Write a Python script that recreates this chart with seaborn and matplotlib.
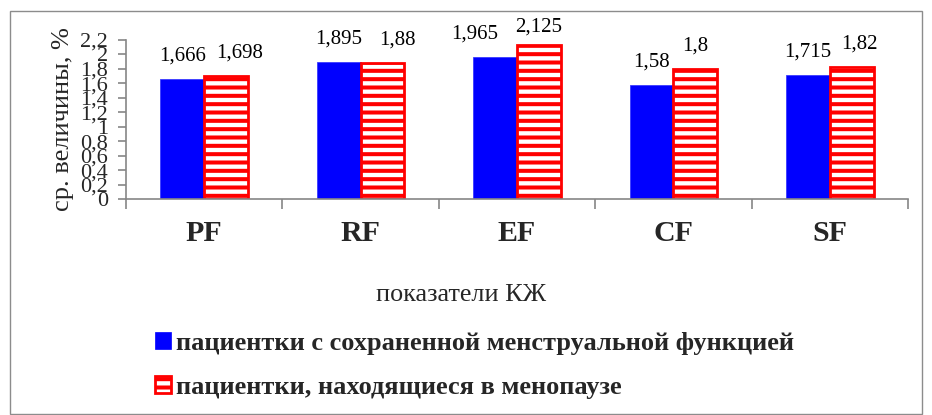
import matplotlib
matplotlib.use("Agg")
import matplotlib.pyplot as plt
from matplotlib.patches import Patch, Rectangle
from matplotlib.ticker import FixedLocator, FuncFormatter
import seaborn as sns
import pandas as pd

# Quality-of-life scales and mean values per patient group
categories = ["PF", "RF", "EF", "CF", "SF"]
group_names = [
    "пациентки с сохраненной менструальной функцией",
    "пациентки, находящиеся в менопаузе",
]
values_menstrual = [1.666, 1.895, 1.965, 1.58, 1.715]
values_menopause = [1.698, 1.88, 2.125, 1.8, 1.82]
y_ticks = [0, 0.2, 0.4, 0.6, 0.8, 1, 1.2, 1.4, 1.6, 1.8, 2, 2.2]

sns.set_theme(style="white")
plt.rcParams["font.family"] = ["Liberation Serif", "DejaVu Serif"]
plt.rcParams["hatch.linewidth"] = 2.9
plt.rcParams["hatch.color"] = "#ff0000"

df = pd.DataFrame({
    "scale": categories * 2,
    "group": [group_names[0]] * len(categories) + [group_names[1]] * len(categories),
    "value": values_menstrual + values_menopause,
})

fig = plt.figure(figsize=(9.32, 4.15), dpi=100)
ax = fig.add_axes([126 / 932, 1 - 199 / 415, (908 - 126) / 932, (199 - 40) / 415])

sns.barplot(data=df, x="scale", y="value", hue="group", order=categories,
            hue_order=group_names, palette=["#0000ff", "#ffffff"],
            width=0.56, saturation=1, legend=False, ax=ax)

blue_bars, red_bars = ax.containers[0], ax.containers[1]
for bar in blue_bars:
    bar.set_edgecolor("#3a3aff")
    bar.set_linewidth(0.6)
for bar in red_bars:
    bar.set_facecolor("white")
    bar.set_edgecolor("#ff0000")
    bar.set_linewidth(2.0)
    bar.set_hatch("--")

# value labels above bars (small horizontal nudges keep neighbours apart)
nudge_blue = [0, 0, -20, 0, 0]
nudge_red = [14, 15, 0, 0, 8]
for container, vals, nudges in ((blue_bars, values_menstrual, nudge_blue),
                                (red_bars, values_menopause, nudge_red)):
    for bar, v, dx in zip(container, vals, nudges):
        xc = bar.get_x() + bar.get_width() / 2
        ytxt = min(v + 0.318, 2.375)
        ax.annotate(f"{v:g}".replace(".", ","), xy=(xc, ytxt),
                    xytext=(dx * 0.72, 0), textcoords="offset points",
                    ha="center", va="center", fontsize=15,
                    color="black", annotation_clip=False)

ax.set_xlim(-0.5, len(categories) - 0.5)
ax.set_ylim(0, 2.2)
ax.yaxis.set_major_locator(FixedLocator(y_ticks))
ax.yaxis.set_major_formatter(FuncFormatter(lambda v, p: f"{v:g}".replace(".", ",")))
ax.tick_params(axis="y", which="major", left=True, length=6, width=1.2,
               color="#868686", labelsize=16, pad=7)

ax.set_xticks(range(len(categories)))
ax.set_xticklabels(categories, fontweight="bold", fontsize=21.5)
ax.xaxis.set_minor_locator(FixedLocator([i - 0.5 for i in range(len(categories) + 1)]))
ax.tick_params(axis="x", which="major", bottom=False, length=0, pad=15)
ax.tick_params(axis="x", which="minor", bottom=True, length=7, width=1.2,
               color="#868686")

for side in ("top", "right"):
    ax.spines[side].set_visible(False)
for side in ("left", "bottom"):
    ax.spines[side].set_color("#868686")
    ax.spines[side].set_linewidth(1.2)

ax.set_ylabel("ср. величины, %", fontsize=19, labelpad=10)
ax.set_xlabel("")
ax.yaxis.set_label_coords(-0.0665, 0.5)
fig.text(461 / 932, 1 - 295 / 415, "показатели КЖ", ha="center", va="center",
         fontsize=18.8)

handles = [
    Patch(facecolor="#0000ff", edgecolor="#0000ff", linewidth=0.5),
    Patch(facecolor="white", edgecolor="#ff0000", linewidth=2.0, hatch="--"),
]
fig.legend(handles, group_names, loc="upper left",
           bbox_to_anchor=(155 / 932, 1 - 332 / 415), frameon=False,
           prop={"weight": "bold", "size": 19}, handlelength=0.6,
           handleheight=0.6, handletextpad=0.2, labelspacing=0.8,
           borderaxespad=0, borderpad=0)

fig.patches.append(Rectangle((10 / 932, 1 / 415), 912 / 932, 403 / 415,
                             transform=fig.transFigure, fill=False,
                             edgecolor="#8c8c8c", linewidth=1.0))

fig.savefig("out.png", dpi=100)
